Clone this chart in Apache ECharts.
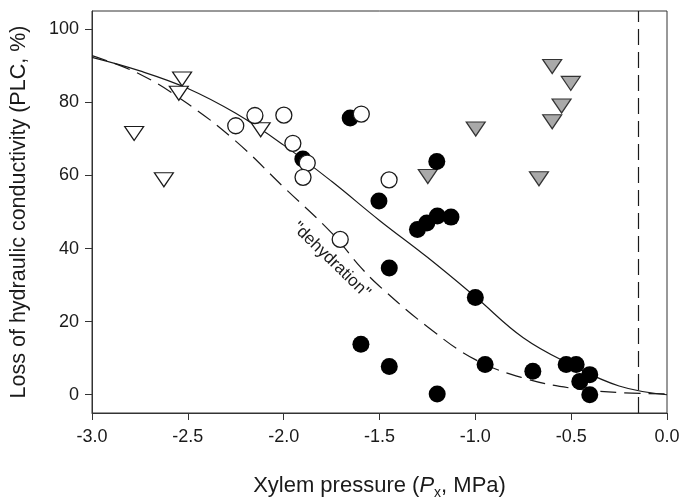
<!DOCTYPE html>
<html>
<head>
<meta charset="utf-8">
<script src="https://cdn.jsdelivr.net/npm/echarts@6/dist/echarts.min.js"></script>
<style>
html,body{margin:0;padding:0;background:#fff;}
#chart{width:683px;height:503px;}
</style>
</head>
<body>
<div id="chart"></div>
<script>
// ---- data ----
var xTicks = [-3.0, -2.5, -2.0, -1.5, -1.0, -0.5, 0.0];
var yTicks = [0, 20, 40, 60, 80, 100];

var openTriangles = [[-2.78, 71.5], [-2.625, 58.8], [-2.53, 86.4], [-2.547, 82.5], [-2.12, 72.5]];
var grayTriangles = [[-0.599, 89.8], [-0.502, 85.2], [-0.55, 79.0], [-0.599, 74.7], [-0.998, 72.7], [-0.668, 59.1], [-1.248, 59.7]];
var filledCircles = [[-1.9, 64.5], [-1.653, 75.7], [-1.503, 53.0], [-1.597, 13.8], [-1.201, 63.8],
  [-1.302, 45.2], [-1.253, 47.0], [-1.198, 48.9], [-1.127, 48.6], [-1.449, 34.7], [-1.0, 26.6],
  [-1.449, 7.7], [-1.199, 0.2], [-0.949, 8.3], [-0.7, 6.4], [-0.526, 8.3], [-0.474, 8.3],
  [-0.403, 5.5], [-0.455, 3.6], [-0.403, 0.0]];
var openCircles = [[-2.25, 73.6], [-2.15, 76.4], [-1.999, 76.5], [-1.952, 68.8], [-1.877, 63.4],
  [-1.899, 59.5], [-1.595, 76.8], [-1.705, 42.5], [-1.45, 58.8]];

var solidCurveX = [-3.0, -2.75, -2.5, -2.25, -2.0, -1.75, -1.5, -1.25, -1.0, -0.75, -0.5, -0.25, 0.0];
var solidCurveY = [92.3, 88.6, 83.8, 77.0, 68.3, 58.4, 47.7, 37.6, 26.8, 15.6, 8.2, 2.4, 0.0];
var dashedCurveX = [-3.0, -2.75, -2.5, -2.25, -2.0, -1.75, -1.6, -1.5, -1.25, -1.0, -0.75, -0.5, -0.25, 0.0];
var dashedCurveY = [92.8, 87.7, 79.6, 69.4, 56.8, 44.3, 35.0, 29.7, 18.6, 9.6, 4.6, 1.8, 0.6, 0.2];

var refLineX = -0.15;
var annotationText = '"dehydration"';
var annotationPos = [-1.752, 36.8];

function zip(xs, ys) { return xs.map(function (x, i) { return [x, ys[i]]; }); }

var chart = echarts.init(document.getElementById('chart'), null, {renderer: 'canvas'});
var font = '"Liberation Sans", Arial, Helvetica, sans-serif';
var ink = '#1a1a1a';

var option = {
  animation: false,
  backgroundColor: '#fff',
  grid: {left: 92, right: 16, top: 11, bottom: 90, show: true, borderColor: '#333', borderWidth: 1,
    backgroundColor: 'transparent', containLabel: false, outerBoundsMode: 'none'},
  xAxis: {
    type: 'value', min: -3, max: 0,
    name: '{n|Xylem pressure (}{i|P}{s|x}{n|, MPa)}',
    nameLocation: 'middle', nameGap: 59,
    nameTextStyle: {
      fontFamily: font, color: ink,
      rich: {
        n: {fontSize: 22, fontFamily: font, color: ink, lineHeight: 28, verticalAlign: 'middle'},
        i: {fontSize: 22, fontFamily: font, color: ink, fontStyle: 'italic', lineHeight: 28, verticalAlign: 'middle'},
        s: {fontSize: 14, fontFamily: font, color: ink, lineHeight: 15, verticalAlign: 'bottom'}
      }
    },
    axisLine: {show: true, onZero: false, lineStyle: {color: '#333', width: 1}},
    axisTick: {show: true, length: 7, customValues: xTicks, lineStyle: {color: '#333'}},
    axisLabel: {customValues: xTicks, fontFamily: font, fontSize: 18, color: ink, margin: 15,
      formatter: function (v) { return Number(v).toFixed(1); }},
    splitLine: {show: false}
  },
  yAxis: {
    type: 'value', min: -5, max: 105,
    name: 'Loss of hydraulic conductivity (PLC, %)',
    nameLocation: 'middle', nameGap: 62,
    nameTextStyle: {fontFamily: font, fontSize: 21.5, color: ink},
    axisLine: {show: true, onZero: false, lineStyle: {color: '#333', width: 1}},
    axisTick: {show: true, length: 7, customValues: yTicks, lineStyle: {color: '#333'}},
    axisLabel: {customValues: yTicks, fontFamily: font, fontSize: 18, color: ink, margin: 13},
    splitLine: {show: false}
  },
  series: [
    {
      type: 'line', data: zip(solidCurveX, solidCurveY), smooth: 0.4, symbol: 'none',
      lineStyle: {color: ink, width: 1.2}, z: 2,
      markLine: {
        silent: true, symbol: 'none', label: {show: false},
        lineStyle: {color: ink, width: 1.2, type: [16, 7]},
        data: [{xAxis: refLineX}]
      }
    },
    {
      type: 'line', data: zip(dashedCurveX, dashedCurveY), smooth: 0.4, symbol: 'none',
      lineStyle: {color: ink, width: 1.2, type: [16, 8]}, z: 2
    },
    {
      type: 'scatter', data: grayTriangles, symbol: 'triangle', symbolRotate: 180, symbolSize: [19, 14],
      itemStyle: {color: '#a9a9a9', borderColor: '#333', borderWidth: 1.2, opacity: 1}, z: 3
    },
    {
      type: 'scatter', data: openTriangles, symbol: 'triangle', symbolRotate: 180, symbolSize: [19, 14],
      itemStyle: {color: '#fff', borderColor: ink, borderWidth: 1.2, opacity: 1}, z: 3
    },
    {
      type: 'scatter', data: filledCircles, symbol: 'circle', symbolSize: 17,
      itemStyle: {color: '#000', borderColor: '#000', borderWidth: 0, opacity: 1}, z: 4
    },
    {
      type: 'scatter', data: openCircles, symbol: 'circle', symbolSize: 16,
      itemStyle: {color: '#fff', borderColor: ink, borderWidth: 1.3, opacity: 1}, z: 5
    },
    {
      type: 'scatter', data: [annotationPos], symbolSize: 0, silent: true, z: 6,
      itemStyle: {opacity: 1},
      label: {show: true, position: 'inside', formatter: annotationText, rotate: -44,
        fontFamily: font, fontSize: 17, color: ink}
    }
  ]
};
chart.setOption(option);
</script>
</body>
</html>
